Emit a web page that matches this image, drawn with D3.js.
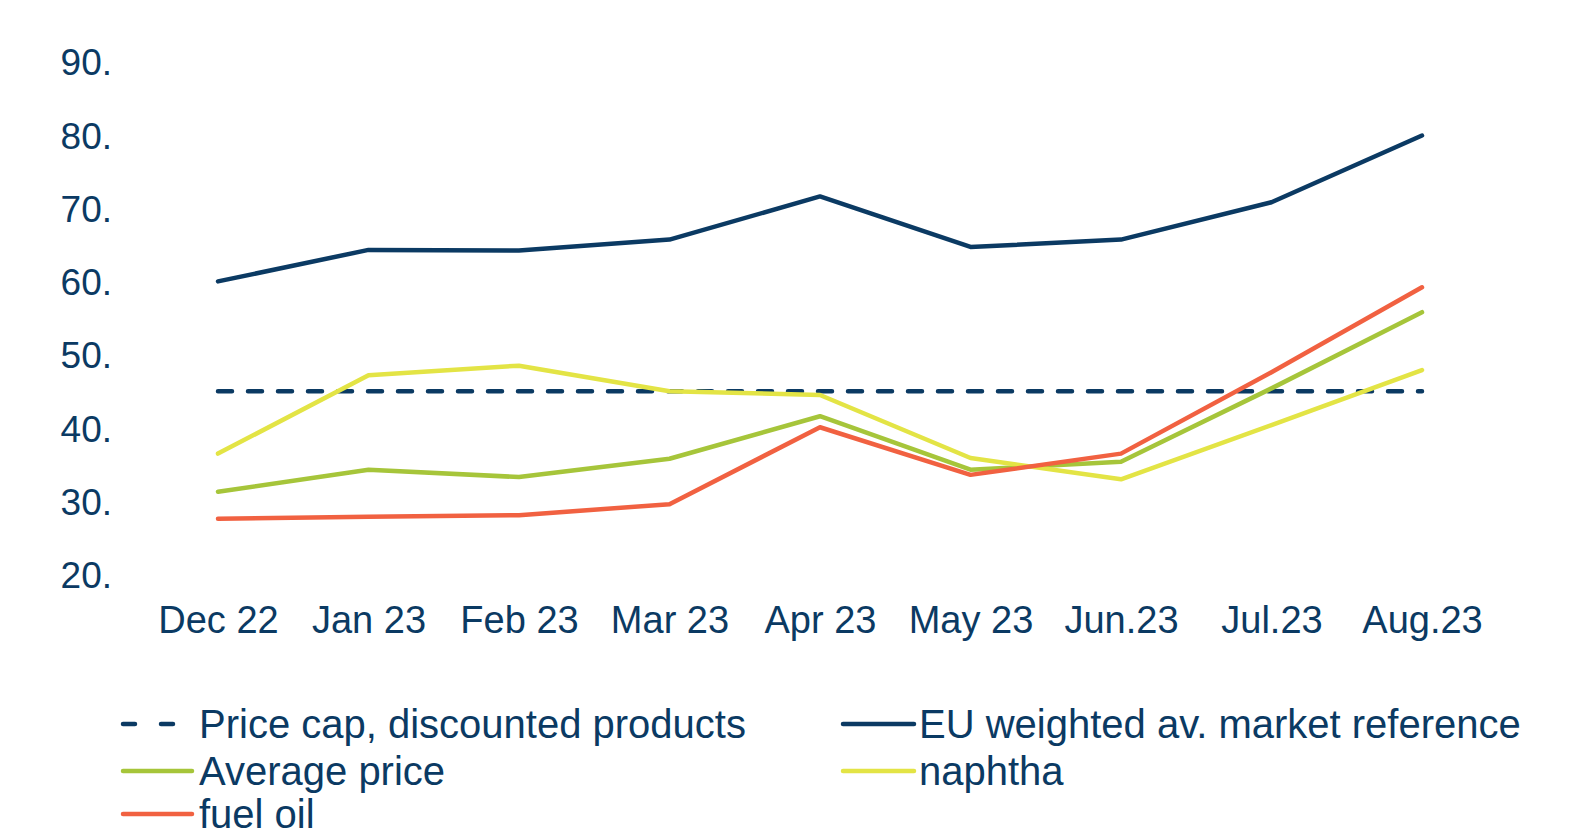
<!DOCTYPE html>
<html>
<head>
<meta charset="utf-8">
<script src="https://cdn.jsdelivr.net/npm/d3@7"></script>
<style>
body{margin:0;background:#fff;overflow:hidden}
text{font-family:Arial,"Liberation Sans",sans-serif;fill:#0b3a63}
</style>
</head>
<body>
<script>
// months on the x axis
const months=["Dec 22","Jan 23","Feb 23","Mar 23","Apr 23","May 23","Jun.23","Jul.23","Aug.23"];
const yTicks=[20,30,40,50,60,70,80,90];

// series
const priceCap=[45.2,45.2,45.2,45.2,45.2,45.2,45.2,45.2,45.2];
const euRef=[60.2,64.5,64.4,65.9,71.8,64.9,65.9,71.0,80.1];
const avgPrice=[31.5,34.5,33.5,36.0,41.8,34.5,35.6,45.6,56.0];
const naphtha=[36.7,47.4,48.7,45.2,44.7,36.1,33.2,40.6,48.1];
const fuelOil=[27.8,28.1,28.3,29.8,40.3,33.8,36.7,47.8,59.4];

const navy="#0b3a63";
const series=[
  {name:"Price cap, discounted products",values:priceCap,color:navy,dash:"14,16"},
  {name:"EU weighted av. market reference",values:euRef,color:navy},
  {name:"Average price",values:avgPrice,color:"#a6c53a"},
  {name:"naphtha",values:naphtha,color:"#e3e445"},
  {name:"fuel oil",values:fuelOil,color:"#f16141"}
];

const w=1585,h=830;
const svg=d3.select("body").append("svg")
  .attr("width",w).attr("height",h);

const x=d3.scalePoint().domain(months).range([218,1422]);
const y=d3.scaleLinear().domain([20,90]).range([576,63]);

// y axis, labels only
const yAx=svg.append("g")
  .attr("transform","translate(112,0)")
  .call(d3.axisLeft(y).tickValues(yTicks).tickSize(0).tickPadding(0).tickFormat(d=>d+"."));
yAx.select(".domain").remove();
yAx.selectAll("text").style("font-size","37px").style("fill",navy).attr("font-family",null);

// x axis, labels only
const xAx=svg.append("g")
  .attr("transform","translate(0,620)")
  .call(d3.axisBottom(x).tickSize(0).tickPadding(0));
xAx.select(".domain").remove();
xAx.selectAll("text").style("font-size","38px").style("fill",navy).attr("dy","0.35em").attr("font-family",null);

const line=d3.line().x((d,i)=>x(months[i])).y(d=>y(d));

svg.append("g").selectAll("path")
  .data(series)
  .join("path")
  .attr("d",d=>line(d.values))
  .attr("fill","none")
  .attr("stroke",d=>d.color)
  .attr("stroke-width",4.5)
  .attr("stroke-linecap","round")
  .attr("stroke-linejoin","round")
  .attr("stroke-dasharray",d=>d.dash||null);

// legend
const legPos=[[123,724],[843,724],[123,771],[843,771],[123,814]];
const leg=svg.append("g").selectAll("g")
  .data(series)
  .join("g")
  .attr("transform",(d,i)=>`translate(${legPos[i][0]},${legPos[i][1]})`);
leg.append("line")
  .attr("x1",0).attr("x2",(d,i)=>i%2?71:69)
  .attr("stroke",d=>d.color)
  .attr("stroke-width",4.5)
  .attr("stroke-linecap","round")
  .attr("stroke-dasharray",d=>d.dash?"12,26":null);
leg.append("text")
  .attr("x",(d,i)=>i%2?76:76)
  .attr("dy","0.35em")
  .style("font-size","40px")
  .text(d=>d.name);
</script>
</body>
</html>
